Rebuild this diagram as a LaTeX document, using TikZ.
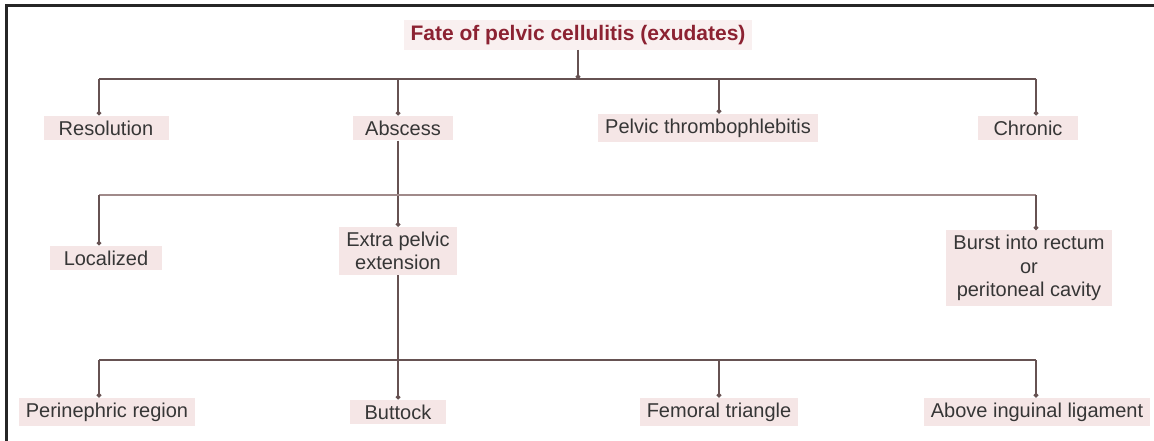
\documentclass[tikz,border=0pt]{standalone}
\usepackage{fontspec}
\setmainfont{Liberation Sans}
\usetikzlibrary{arrows.meta}
\definecolor{ttl}{HTML}{8C2232}
\definecolor{txt}{HTML}{363636}
\definecolor{ln}{HTML}{665252}
\definecolor{lnb}{HTML}{A08A8A}
\definecolor{bx}{HTML}{F5E6E6}
\begin{document}
\begin{tikzpicture}[x=1pt,y=-1pt,
  lbl/.style={fill=bx, text=txt, font=\fontsize{20}{23.5}\selectfont, inner xsep=7pt, inner ysep=5pt, align=center},
  conn/.style={draw=ln, line width=1.4pt},
  dot/.style={conn, -{Circle[length=4.5pt]}}]
\useasboundingbox (0,0) rectangle (1154,441);
\fill[white] (0,0) rectangle (1154,441);
\draw[line width=3pt, draw=black!85] (6,441) -- (6,6) -- (1154,6);

% title
\node[lbl, fill=bx!60, text=ttl, font=\bfseries\fontsize{21}{24}\selectfont] (t) at (578,35) {Fate of pelvic cellulitis (exudates)};

% level 1
\node[lbl, minimum width=125pt] (res) at (106,128) {Resolution};
\node[lbl, minimum width=100pt] (abs) at (403,128) {Abscess};
\node[lbl] (pel) at (708,128) {Pelvic thrombophlebitis};
\node[lbl, minimum width=100pt] (chr) at (1028,128) {Chronic};

% level 2
\node[lbl, minimum width=112pt] (loc) at (106,258) {Localized};
\node[lbl] (ext) at (398,251) {Extra pelvic\\extension};
\node[lbl] (bur) at (1029,268) {Burst into rectum\\or\\peritoneal cavity};

% level 3
\node[lbl] (per) at (107,412) {Perinephric region};
\node[lbl, minimum width=96pt] (but) at (398,412) {Buttock};
\node[lbl] (fem) at (719,412) {Femoral triangle};
\node[lbl] (abv) at (1037,412) {Above inguinal ligament};

% bus coordinates
\coordinate (b1L) at (99,79);
\coordinate (b1R) at (1036,79);
\coordinate (b1A) at (398,79);
\coordinate (b1P) at (719,79);
\coordinate (b2L) at (99,195);
\coordinate (b2R) at (1036,195);
\coordinate (b3L) at (99,360);
\coordinate (b3R) at (1036,360);
\coordinate (b3F) at (719,360);

% level 1 connectors
\draw[dot] (t.south) -- (t.south |- b1L);
\draw[conn] (b1L) -- (b1R);
\draw[dot] (b1L) -- (b1L |- res.north);
\draw[dot] (b1A) -- (b1A |- abs.north);
\draw[dot] (b1P) -- (b1P |- pel.north);
\draw[dot] (b1R) -- (b1R |- chr.north);

% level 2 connectors
\draw[dot] (b1A |- abs.south) -- (ext.north);
\draw[conn, draw=lnb, line width=2pt] (b2L) -- (b2R);
\draw[dot] (b2L) -- (b2L |- loc.north);
\draw[dot] (b2R) -- (b2R |- bur.north);

% level 3 connectors
\draw[dot] (ext.south) -- (but.north);
\draw[conn] (b3L) -- (b3R);
\draw[dot] (b3L) -- (b3L |- per.north);
\draw[dot] (b3F) -- (b3F |- fem.north);
\draw[dot] (b3R) -- (b3R |- abv.north);
\end{tikzpicture}
\end{document}
